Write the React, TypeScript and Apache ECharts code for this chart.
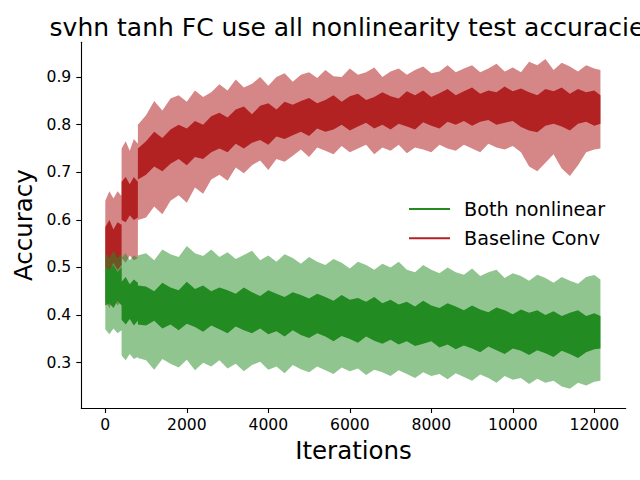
import React, { useEffect, useRef } from "react";
import * as echarts from "echarts";

const TITLE = "svhn tanh FC use all nonlinearity test accuracies";
const X_NAME = "Iterations";
const Y_NAME = "Accuracy";
const SERIES_NAMES = ["Both nonlinear", "Baseline Conv"];
const X_TICKS = [0, 2000, 4000, 6000, 8000, 10000, 12000];
const Y_TICKS = [0.3, 0.4, 0.5, 0.6, 0.7, 0.8, 0.9];

const ITER = [
  0, 100, 200, 300, 399,
  400, 500, 600, 700, 799,
  800,
  1000, 1200, 1400, 1600, 1800, 2000, 2200, 2400, 2600, 2800,
  3000, 3200, 3400, 3600, 3800, 4000, 4200, 4400, 4600, 4800,
  5000, 5200, 5400, 5600, 5800, 6000, 6200, 6400, 6600, 6800,
  7000, 7200, 7400, 7600, 7800, 8000, 8200, 8400, 8600, 8800,
  9000, 9200, 9400, 9600, 9800, 10000, 10200, 10400, 10600, 10800,
  11000, 11200, 11400, 11600, 11800, 12000, 12150,
];

// Baseline Conv (red)
const RED_BAND_HI = [
  0.64, 0.66, 0.645, 0.66, 0.65,
  0.75, 0.765, 0.745, 0.77, 0.76,
  0.8,
  0.82, 0.85, 0.83, 0.855, 0.862, 0.848, 0.872, 0.858, 0.868, 0.885,
  0.872, 0.895, 0.878, 0.886, 0.9, 0.882, 0.9, 0.908, 0.89, 0.905,
  0.91, 0.898, 0.915, 0.902, 0.9, 0.918, 0.905, 0.91, 0.92, 0.9,
  0.912, 0.918, 0.905, 0.915, 0.922, 0.908, 0.912, 0.925, 0.91, 0.918,
  0.925, 0.91, 0.918, 0.928, 0.912, 0.92, 0.91, 0.932, 0.925, 0.938,
  0.915, 0.93, 0.922, 0.912, 0.925, 0.918, 0.915,
];
const RED_MEAN_HI = [
  0.585, 0.6, 0.58, 0.595, 0.59,
  0.68, 0.69, 0.675, 0.69, 0.68,
  0.75,
  0.765, 0.785, 0.772, 0.79, 0.8, 0.792, 0.808, 0.8, 0.818, 0.825,
  0.815, 0.832, 0.838, 0.822, 0.84, 0.845, 0.832, 0.848, 0.842, 0.85,
  0.856, 0.845, 0.852, 0.862, 0.848, 0.86, 0.865, 0.852, 0.858, 0.868,
  0.86, 0.855, 0.87, 0.862, 0.872, 0.858, 0.866, 0.875, 0.862, 0.87,
  0.878, 0.865, 0.872, 0.868, 0.88, 0.87, 0.876, 0.868, 0.862, 0.875,
  0.87, 0.878, 0.865, 0.875, 0.868, 0.872, 0.862,
];
const RED_MEAN_LO = [
  0.5, 0.49, 0.51, 0.495, 0.505,
  0.6, 0.595, 0.61, 0.6, 0.605,
  0.685,
  0.695, 0.712, 0.702, 0.718, 0.728, 0.715, 0.732, 0.728, 0.742, 0.75,
  0.742, 0.76, 0.75, 0.762, 0.768, 0.758, 0.775, 0.77, 0.778, 0.785,
  0.776, 0.792, 0.785, 0.79, 0.8, 0.788, 0.796, 0.804, 0.792, 0.8,
  0.79, 0.802, 0.796, 0.79, 0.805, 0.798, 0.792, 0.806, 0.8, 0.808,
  0.798, 0.806, 0.81, 0.8, 0.804, 0.808, 0.795, 0.788, 0.784, 0.798,
  0.802, 0.796, 0.788, 0.802, 0.806, 0.798, 0.802,
];
const RED_BAND_LO = [
  0.43, 0.415, 0.435, 0.42, 0.43,
  0.52, 0.51, 0.525, 0.515, 0.52,
  0.6,
  0.605, 0.628, 0.612, 0.64, 0.652, 0.636, 0.668, 0.655, 0.685, 0.695,
  0.682, 0.71, 0.698, 0.715, 0.725, 0.705, 0.728, 0.722, 0.735, 0.748,
  0.732, 0.752, 0.745, 0.738, 0.755, 0.742, 0.75, 0.758, 0.738, 0.752,
  0.745, 0.758, 0.74, 0.752, 0.748, 0.742, 0.758, 0.75, 0.745, 0.758,
  0.75, 0.742, 0.76, 0.752, 0.748, 0.755, 0.742, 0.712, 0.702, 0.72,
  0.738, 0.708, 0.692, 0.715, 0.742, 0.748, 0.75,
];

// Both nonlinear (green)
const GREEN_BAND_HI = [
  0.53, 0.52, 0.535, 0.52, 0.53,
  0.52, 0.53, 0.515, 0.525, 0.52,
  0.525,
  0.53, 0.515, 0.538, 0.528, 0.522, 0.545, 0.53, 0.524, 0.538, 0.522,
  0.532, 0.518, 0.526, 0.535, 0.515, 0.525, 0.512, 0.528, 0.52, 0.508,
  0.522, 0.512, 0.505, 0.518, 0.51, 0.498, 0.512, 0.505, 0.495, 0.508,
  0.5, 0.512, 0.495, 0.49, 0.505, 0.495, 0.488, 0.5, 0.49, 0.485,
  0.498, 0.482, 0.49, 0.495, 0.478, 0.488, 0.482, 0.472, 0.485, 0.478,
  0.468, 0.48, 0.472, 0.466, 0.48, 0.484, 0.475,
];
const GREEN_MEAN_HI = [
  0.5, 0.495, 0.505, 0.49, 0.5,
  0.47, 0.48, 0.465, 0.475, 0.468,
  0.462,
  0.46, 0.45, 0.468, 0.458, 0.452, 0.47, 0.455, 0.462, 0.45, 0.458,
  0.452, 0.445, 0.458, 0.448, 0.44, 0.452, 0.445, 0.438, 0.448, 0.442,
  0.435, 0.445, 0.438, 0.43, 0.442, 0.432, 0.436, 0.428, 0.438, 0.425,
  0.432, 0.422, 0.428, 0.418, 0.43, 0.42, 0.415, 0.425, 0.418, 0.41,
  0.42, 0.412, 0.406, 0.416, 0.41, 0.402, 0.412, 0.405, 0.41, 0.4,
  0.408, 0.398, 0.405, 0.41, 0.398, 0.404, 0.398,
];
const GREEN_MEAN_LO = [
  0.42, 0.425, 0.415, 0.43, 0.42,
  0.39, 0.38, 0.392, 0.378, 0.388,
  0.38,
  0.378, 0.388, 0.372, 0.38, 0.368, 0.382, 0.375, 0.365, 0.378, 0.37,
  0.362, 0.376, 0.368, 0.362, 0.372, 0.36, 0.366, 0.355, 0.368, 0.358,
  0.352, 0.362, 0.355, 0.345, 0.356, 0.35, 0.342, 0.355, 0.346, 0.34,
  0.348, 0.338, 0.345, 0.335, 0.34, 0.345, 0.332, 0.338, 0.328, 0.336,
  0.33, 0.322, 0.334, 0.326, 0.318, 0.33, 0.325, 0.316, 0.326, 0.32,
  0.312, 0.325, 0.318, 0.31, 0.322, 0.328, 0.33,
];
const GREEN_BAND_LO = [
  0.37, 0.36, 0.372, 0.362, 0.368,
  0.315, 0.305, 0.318, 0.308, 0.312,
  0.31,
  0.305, 0.285, 0.308, 0.298, 0.29, 0.306, 0.284, 0.3, 0.292, 0.305,
  0.288, 0.298, 0.282, 0.295, 0.302, 0.285, 0.292, 0.278, 0.295, 0.286,
  0.28, 0.292, 0.284, 0.276, 0.29, 0.282, 0.288, 0.274, 0.285, 0.28,
  0.272, 0.284, 0.276, 0.268, 0.28, 0.272, 0.276, 0.265, 0.278, 0.27,
  0.262, 0.275, 0.268, 0.258, 0.272, 0.264, 0.268, 0.255, 0.266, 0.258,
  0.262, 0.25, 0.245, 0.258, 0.252, 0.26, 0.262,
];

const GREEN = "#228B22";
const RED = "#B22222";
const GREEN_LIGHT = "rgba(34,139,34,0.5)";
const RED_LIGHT = "rgba(178,34,34,0.55)";
const FONT = "DejaVu Sans";

function bandSeries(name: string, lo: number[], hi: number[], fill: string, z: number) {
  return {
    type: "custom",
    name,
    silent: true,
    z,
    itemStyle: { color: fill },
    data: ITER.map((x, i) => [x, lo[i], hi[i]]),
    encode: { x: 0, y: [1, 2] },
    renderItem: (params: any, api: any) => {
      if (params.dataIndex !== 0) return null;
      const pts: number[][] = [];
      for (let i = 0; i < ITER.length; i++) pts.push(api.coord([ITER[i], hi[i]]));
      for (let i = ITER.length - 1; i >= 0; i--) pts.push(api.coord([ITER[i], lo[i]]));
      return { type: "polygon", shape: { points: pts }, style: { fill } };
    },
  };
}

export default function App() {
  const ref = useRef<HTMLDivElement>(null);
  useEffect(() => {
    if (!ref.current) return;
    const chart = echarts.init(ref.current, undefined, { renderer: "svg" });
    const axisLine = { show: true, onZero: false, lineStyle: { color: "#000", width: 1.1 } };
    const axisTickStyle = { lineStyle: { color: "#000", width: 1.1 }, length: 5 };
    chart.setOption({
      animation: false,
      backgroundColor: "#fff",
      textStyle: { fontFamily: FONT },
      grid: { left: 81.3, right: 14.3, top: 42.3, bottom: 72, outerBoundsMode: "none" },
      xAxis: {
        type: "value",
        min: -589,
        max: 12770,
        name: X_NAME,
        nameLocation: "middle",
        nameGap: 30,
        nameTextStyle: { fontFamily: FONT, fontSize: 24.5, color: "#000" },
        axisLine,
        axisTick: { show: true, customValues: X_TICKS, ...axisTickStyle },
        axisLabel: {
          customValues: X_TICKS,
          fontFamily: FONT,
          fontSize: 15.6,
          color: "#000",
          margin: 9,
          formatter: (v: number) => String(v),
        },
        splitLine: { show: false },
      },
      yAxis: {
        type: "value",
        min: 0.2048,
        max: 0.9731,
        name: Y_NAME,
        nameLocation: "middle",
        nameGap: 42,
        nameTextStyle: { fontFamily: FONT, fontSize: 24.5, color: "#000" },
        axisLine,
        axisTick: { show: true, customValues: Y_TICKS, ...axisTickStyle },
        axisLabel: {
          customValues: Y_TICKS,
          fontFamily: FONT,
          fontSize: 15.6,
          color: "#000",
          margin: 10,
          formatter: (v: number) => v.toFixed(1),
        },
        splitLine: { show: false },
      },
      legend: {
        show: true,
        orient: "vertical",
        left: 409,
        top: 199,
        padding: 0,
        itemWidth: 41,
        itemHeight: 2,
        itemGap: 9.3,
        icon: "rect",
        data: [
          { name: SERIES_NAMES[0], itemStyle: { color: GREEN } },
          { name: SERIES_NAMES[1], itemStyle: { color: RED } },
        ],
        textStyle: {
          fontFamily: FONT,
          fontSize: 19.2,
          lineHeight: 20,
          color: "#000",
          padding: [0, 0, 0, 9],
        },
        selectedMode: false,
      },
      graphic: [
        {
          type: "text",
          x: 353.5,
          y: 27,
          style: {
            text: TITLE,
            fontFamily: FONT,
            fontSize: 25,
            fill: "#000",
            textAlign: "center",
            textVerticalAlign: "middle",
          },
        },
      ],
      series: [
        bandSeries(SERIES_NAMES[1] + " band", RED_BAND_LO, RED_BAND_HI, RED_LIGHT, 1),
        bandSeries(SERIES_NAMES[1], RED_MEAN_LO, RED_MEAN_HI, RED, 2),
        bandSeries(SERIES_NAMES[0] + " band", GREEN_BAND_LO, GREEN_BAND_HI, GREEN_LIGHT, 3),
        bandSeries(SERIES_NAMES[0], GREEN_MEAN_LO, GREEN_MEAN_HI, GREEN, 4),
      ],
    });
    return () => chart.dispose();
  }, []);
  return (
    <div
      ref={ref}
      style={{ position: "fixed", left: 0, top: 0, width: 640, height: 480, background: "#fff" }}
    />
  );
}
